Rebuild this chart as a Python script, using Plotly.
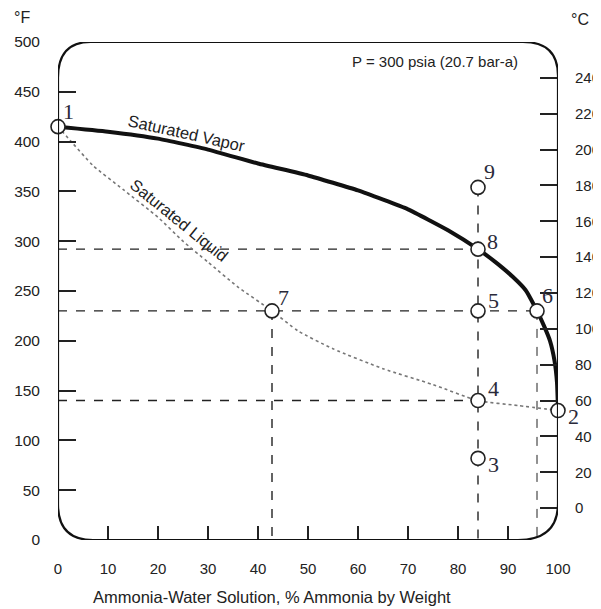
import plotly.graph_objects as go

# ---- data ----
# Saturated vapor curve (% ammonia by weight, °F)
vapor_x = [0, 10, 20, 30, 40, 50, 60, 70, 78, 84, 88, 91, 93.5, 95.8, 97.2, 98.4, 99.3, 99.8, 100]
vapor_F = [415, 410, 403, 392, 378, 366, 351, 332, 311, 292, 277, 264, 251, 230, 215, 200, 180, 158, 130]

# Saturated liquid curve
liquid_x = [0, 3, 7, 13, 20, 25, 30, 36, 42.8, 48, 55, 65, 75, 84, 92, 100]
liquid_F = [415, 398, 376, 352, 324, 300, 279, 254, 230, 210, 192, 172, 156, 140, 135, 130]

# State points 1..9
pt_labels = ["1", "2", "3", "4", "5", "6", "7", "8", "9"]
pt_x = [0, 100, 84, 84, 84, 95.8, 42.8, 84, 84]
pt_F = [415, 130, 82, 140, 230, 230, 230, 292, 354]

x_ticks = [0, 10, 20, 30, 40, 50, 60, 70, 80, 90, 100]
F_ticks = [0, 50, 100, 150, 200, 250, 300, 350, 400, 450, 500]
C_ticks = [0, 20, 40, 60, 80, 100, 120, 140, 160, 180, 200, 220, 240]

F_range = [0, 500]
C_range = [(F_range[0] - 32) / 1.8, (F_range[1] - 32) / 1.8]

P = {lab: (x, f) for lab, x, f in zip(pt_labels, pt_x, pt_F)}

fig = go.Figure()

# construction dashed lines (built from state points)
dash_lines = [
    ([0, P["8"][0]], [P["8"][1], P["8"][1]], "dash", 1.4),
    ([0, P["6"][0]], [P["5"][1], P["6"][1]], "dash", 1.4),
    ([0, P["4"][0]], [P["4"][1], P["4"][1]], "dash", 1.4),
    ([P["9"][0], P["9"][0]], [P["9"][1], 0], "dash", 1.4),
    ([P["7"][0], P["7"][0]], [P["7"][1], 0], "dash", 1.4),
    ([P["6"][0], P["6"][0]], [P["6"][1], 0], "dash", 1.0),
]
for xs, ys, d, w in dash_lines:
    fig.add_trace(go.Scatter(x=xs, y=ys, mode="lines",
                             line=dict(color="#222", width=w, dash=d),
                             hoverinfo="skip", showlegend=False, cliponaxis=False))

# saturated liquid (thin grey grainy)
fig.add_trace(go.Scatter(x=liquid_x, y=liquid_F, mode="lines",
                         line=dict(color="#777", width=1.6, dash="dot", shape="spline", smoothing=0.6),
                         hoverinfo="skip", showlegend=False, cliponaxis=False))
# saturated vapor (thick black)
fig.add_trace(go.Scatter(x=vapor_x, y=vapor_F, mode="lines",
                         line=dict(color="#111", width=4, shape="spline", smoothing=0.4),
                         hoverinfo="skip", showlegend=False, cliponaxis=False))

# state points
fig.add_trace(go.Scatter(x=pt_x, y=pt_F, mode="markers",
                         marker=dict(size=14, color="white", line=dict(color="#222", width=1.6)),
                         hoverinfo="skip", showlegend=False, cliponaxis=False))

# dummy traces to host the extra axes
for xa, ya in [("x", "y2"), ("x", "y3"), ("x", "y4"), ("x2", "y")]:
    fig.add_trace(go.Scatter(x=[None], y=[None], xaxis=xa, yaxis=ya,
                             showlegend=False, hoverinfo="skip"))

# rounded frame
frame = ("M 0,36 L 0,464 Q 0,500 6.5,500 L 93,500 Q 100,500 100,466 "
         "L 100,37 Q 100,0 92,0 L 7,0 Q 0,0 0,36 Z")
fig.add_shape(type="path", path=frame, xref="x", yref="y",
              line=dict(color="#111", width=2.2), layer="above")

# point number labels
offsets = {"1": (10, 15), "2": (15, -6), "3": (15, -6), "4": (15, 12), "5": (15, 10),
           "6": (10, 15), "7": (11, 13), "8": (14, 8), "9": (11, 16)}
for lab, x, f in zip(pt_labels, pt_x, pt_F):
    dx, dy = offsets[lab]
    fig.add_annotation(x=x, y=f, text=lab, showarrow=False, xshift=dx, yshift=dy,
                       xanchor="center", yanchor="middle",
                       font=dict(family="Liberation Serif", size=22, color="#2a2a3a"))

# curve labels
fig.add_annotation(x=25.6, y=409, text="Saturated Vapor", textangle=12.5, showarrow=False,
                   xanchor="center", yanchor="middle",
                   font=dict(family="Liberation Sans", size=16.5, color="#222"))
fig.add_annotation(x=24.2, y=321, text="Saturated Liquid", textangle=39, showarrow=False,
                   xanchor="center", yanchor="middle",
                   font=dict(family="Liberation Sans", size=16.5, color="#222"))
fig.add_annotation(x=75.4, y=480, text="P = 300 psia (20.7 bar-a)", showarrow=False,
                   xanchor="center", yanchor="middle",
                   font=dict(family="Liberation Sans", size=15, color="#222"))

# unit labels and axis title
fig.add_annotation(x=-0.072, y=1.05, xref="paper", yref="paper", text="°F", showarrow=False,
                   xanchor="center", yanchor="middle",
                   font=dict(family="Liberation Sans", size=16, color="#222"))
fig.add_annotation(x=1.044, y=1.046, xref="paper", yref="paper", text="°C", showarrow=False,
                   xanchor="center", yanchor="middle",
                   font=dict(family="Liberation Sans", size=16, color="#222"))
fig.add_annotation(x=0.428, y=-0.1145, xref="paper", yref="paper",
                   text="Ammonia-Water Solution, % Ammonia by Weight", showarrow=False,
                   xanchor="center", yanchor="middle",
                   font=dict(family="Liberation Sans", size=16.5, color="#222"))

font_l = dict(family="Liberation Sans", size=15.5, color="#222")
font_b = dict(family="Liberation Sans", size=15, color="#222")
common = dict(showgrid=False, zeroline=False, showline=False, automargin=False)
tickstyle = dict(ticks="inside", tickwidth=1.5, tickcolor="#222", showticklabels=False)
fig.update_layout(
    width=593, height=601,
    margin=dict(l=50, r=43, t=34, b=69, autoexpand=False),
    paper_bgcolor="white", plot_bgcolor="white",
    xaxis=dict(range=[0, 100], tickvals=x_ticks, ticks="", tickfont=font_b,
               ticklabelstandoff=18, **common),
    xaxis2=dict(range=[0, 100], overlaying="x", anchor="y", side="bottom",
                tickvals=x_ticks[1:-1], ticklen=14, **tickstyle, **common),
    yaxis=dict(range=F_range, tickvals=F_ticks, ticks="", tickfont=font_l,
               ticklabelstandoff=17, **common),
    yaxis3=dict(range=F_range, overlaying="y", anchor="x", side="left",
                tickvals=F_ticks[1:-1], ticklen=18, **tickstyle, **common),
    yaxis2=dict(range=C_range, overlaying="y", anchor="x", side="right",
                tickvals=C_ticks, ticks="", tickfont=font_b, ticklabelstandoff=16, **common),
    yaxis4=dict(range=C_range, overlaying="y", anchor="x", side="right",
                tickvals=C_ticks, ticklen=18, **tickstyle, **common),
)

fig.write_html("out.html")
